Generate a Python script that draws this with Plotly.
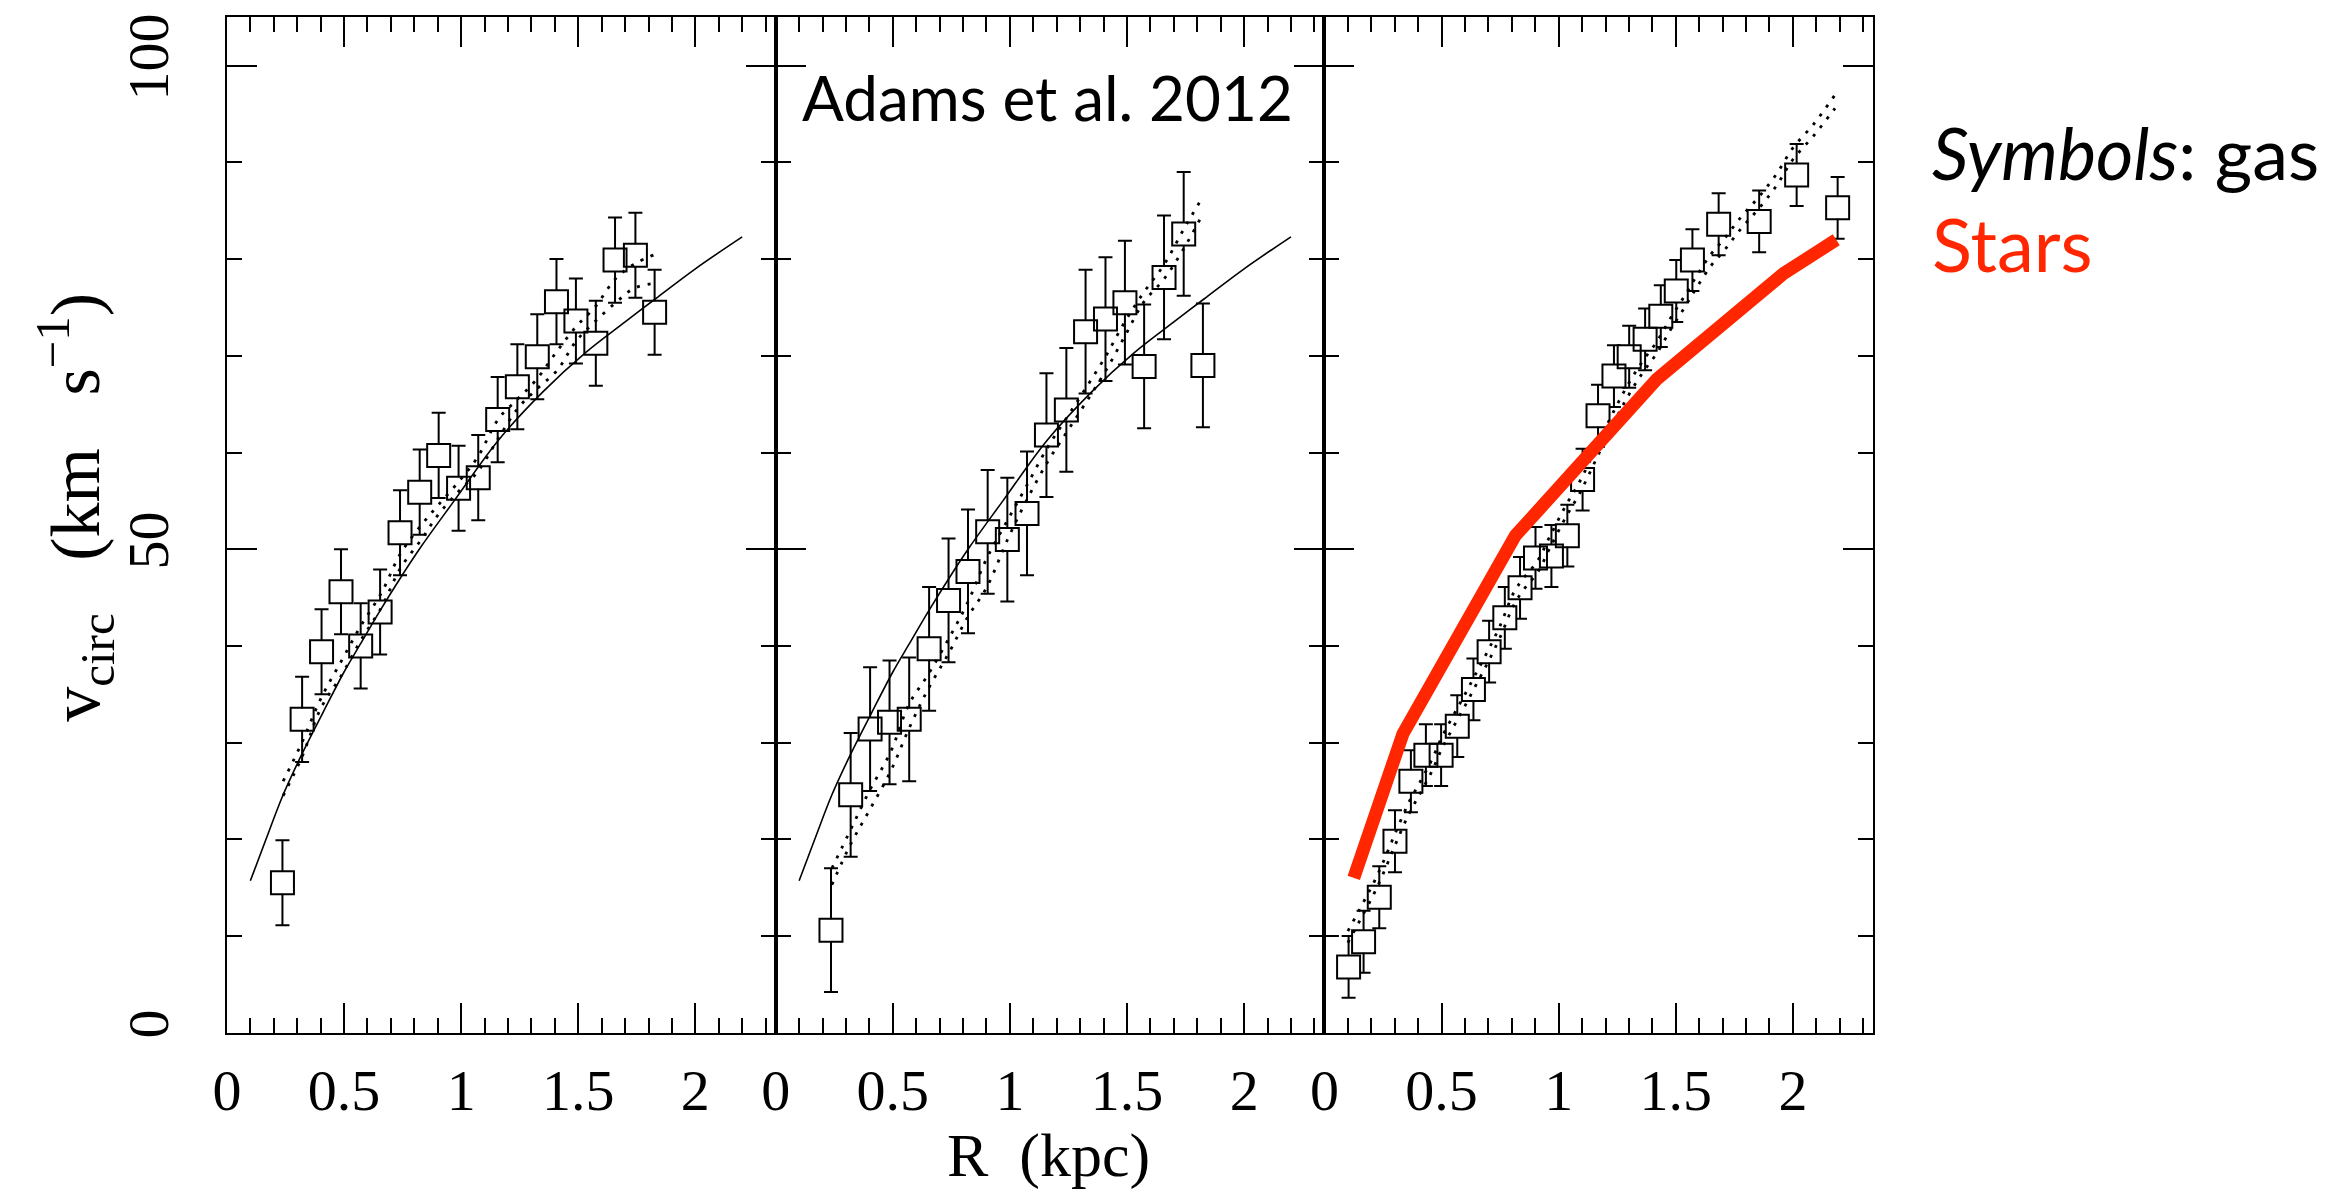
import plotly.graph_objects as go

# ---------------- data ----------------
# Panel 1 (gas, symbols)
R1 = [0.237, 0.321, 0.404, 0.487, 0.571, 0.654, 0.739, 0.823, 0.904, 0.989,
      1.073, 1.156, 1.240, 1.325, 1.407, 1.490, 1.575, 1.657, 1.744, 1.826]
V1 = [15.5, 32.4, 39.4, 45.6, 40.0, 43.5, 51.7, 55.9, 59.7, 56.3,
      57.4, 63.4, 66.8, 69.9, 75.6, 73.6, 71.3, 79.9, 80.4, 74.5]
E1 = [4.4] * len(R1)

# Panel 2 (gas, symbols)
R2 = [0.236, 0.320, 0.403, 0.486, 0.570, 0.655, 0.738, 0.821, 0.905, 0.989,
      1.073, 1.156, 1.241, 1.323, 1.408, 1.491, 1.573, 1.658, 1.742, 1.824]
V2 = [10.6, 24.6, 31.4, 32.1, 32.4, 39.7, 44.7, 47.7, 51.8, 51.0,
      53.7, 61.8, 64.4, 72.5, 73.8, 75.5, 68.9, 78.1, 82.6, 69.0]
E2 = [6.4] * len(R2)

# Panel 3 (gas, symbols)
R3 = [0.103, 0.167, 0.234, 0.301, 0.369, 0.433, 0.498, 0.567, 0.636, 0.703,
      0.770, 0.835, 0.901, 0.969, 1.037, 1.102, 1.168, 1.236, 1.301, 1.369,
      1.436, 1.502, 1.571, 1.683, 1.856, 2.016, 2.191]
V3 = [6.8, 9.4, 14.0, 19.8, 26.0, 28.7, 28.7, 31.7, 35.5, 39.4,
      42.9, 46.0, 49.1, 49.3, 51.4, 57.2, 63.8, 67.9, 69.9, 71.7,
      74.1, 76.7, 79.9, 83.6, 83.9, 88.7, 85.3]
E3 = [3.2] * len(R3)

# Solid model curve (panels 1 and 2)
R_FIT = [0.10, 0.17, 0.24, 0.32, 0.41, 0.50, 0.57, 0.65, 0.74, 0.83,
         0.97, 1.16, 1.35, 1.53, 1.70, 1.83, 2.00, 2.20]
V_FIT = [15.7, 20.2, 24.6, 28.8, 33.1, 37.3, 40.2, 43.5, 47.0, 50.3,
         55.0, 61.3, 66.3, 70.3, 73.5, 75.9, 79.0, 82.3]

# Dotted curves, panel 1
R_D1 = [0.24, 0.32, 0.40, 0.49, 0.57, 0.66, 0.74, 0.83, 0.90, 0.99,
        1.07, 1.16, 1.24, 1.32, 1.41, 1.49, 1.57, 1.66, 1.74, 1.83]
V_D1_UP = [26.0, 30.0, 34.5, 38.5, 42.0, 45.5, 49.5, 52.5, 54.5, 57.0,
           59.5, 63.5, 65.5, 67.5, 70.5, 73.0, 75.0, 78.0, 79.5, 80.5]
V_D1_LO = [24.5, 28.5, 33.5, 37.0, 40.5, 44.0, 48.0, 51.0, 53.5, 56.0,
           58.0, 61.5, 64.5, 66.5, 68.5, 71.5, 73.5, 75.5, 77.0, 77.5]

# Dotted curves, panel 2
R_D2 = [0.24, 0.32, 0.40, 0.49, 0.57, 0.65, 0.74, 0.82, 0.90, 0.99,
        1.07, 1.16, 1.24, 1.32, 1.41, 1.49, 1.57, 1.66, 1.74, 1.82]
V_D2_UP = [17.0, 21.0, 25.0, 29.0, 34.0, 37.0, 40.8, 44.5, 49.0, 53.0,
           56.5, 60.5, 63.5, 66.5, 70.0, 73.5, 76.5, 79.5, 83.0, 86.3]
V_D2_LO = [15.3, 19.5, 23.0, 27.0, 31.5, 35.5, 39.3, 43.0, 46.0, 51.0,
           55.0, 59.0, 62.0, 65.0, 68.5, 72.0, 75.5, 78.0, 81.0, 84.5]

# Dotted curves, panel 3
R_D3 = [0.10, 0.16, 0.21, 0.25, 0.30, 0.36, 0.41, 0.46, 0.50, 0.55,
        0.60, 0.65, 0.70, 0.75, 0.81, 0.85, 0.91, 0.96, 1.03, 1.09,
        1.16, 1.24, 1.30, 1.36, 1.42, 1.48, 1.54, 1.59, 1.65, 1.71,
        1.78, 1.85, 1.93, 2.00, 2.09, 2.18]
V_D3_UP = [10.5, 13.2, 15.5, 17.6, 20.5, 23.8, 26.0, 28.3, 30.5, 32.8,
           35.0, 37.3, 39.6, 42.1, 45.6, 47.0, 48.8, 51.2, 54.5, 57.0,
           60.5, 64.5, 67.2, 69.5, 71.5, 74.0, 76.3, 78.3, 80.5, 82.2,
           84.4, 86.3, 88.8, 91.5, 94.0, 97.0]
V_D3_LO = [9.3, 12.0, 14.3, 16.4, 19.3, 22.6, 24.8, 27.1, 29.3, 31.6,
           33.8, 36.1, 38.4, 40.9, 44.3, 45.8, 47.6, 50.0, 53.3, 55.8,
           59.3, 63.3, 66.0, 68.3, 70.3, 72.8, 75.1, 77.1, 79.3, 81.0,
           83.2, 85.1, 87.6, 90.3, 92.8, 95.6]

# Stars (red), panel 3
R_STARS = [0.125, 0.335, 0.815, 1.42, 1.96, 2.185]
V_STARS = [16.0, 30.9, 51.4, 67.6, 78.5, 82.0]

X_TICKS = [0, 0.5, 1, 1.5, 2]
Y_TICKS = [0, 50, 100]

# ---------------- figure ----------------
W, H = 2345, 1189
RED = "#ff2600"
SERIF = "Liberation Serif, DejaVu Serif, serif"
SANS = "Lato, Noto Sans, sans-serif"

fig = go.Figure()


def add_gas(R, V, E, ax):
    xa, ya = ("x", "y") if ax == 1 else (f"x{ax}", f"y{ax}")
    # error bars
    fig.add_trace(go.Scatter(
        x=R, y=V, mode="markers", xaxis=xa, yaxis=ya, showlegend=False,
        marker=dict(size=1, color="rgba(0,0,0,0)"),
        error_y=dict(type="data", array=E, visible=True, color="black",
                     thickness=2, width=7)))
    # white interior of the squares
    fig.add_trace(go.Scatter(
        x=R, y=V, mode="markers", xaxis=xa, yaxis=ya, showlegend=False,
        marker=dict(symbol="square", size=22, color="white",
                    line=dict(width=0))))
    # square outlines
    fig.add_trace(go.Scatter(
        x=R, y=V, mode="markers", xaxis=xa, yaxis=ya, showlegend=False,
        marker=dict(symbol="square-open", size=23, color="black",
                    line=dict(width=2, color="black"))))


def add_line(R, V, ax, **line):
    xa, ya = ("x", "y") if ax == 1 else (f"x{ax}", f"y{ax}")
    fig.add_trace(go.Scatter(x=R, y=V, mode="lines", xaxis=xa, yaxis=ya,
                             showlegend=False, line=line))


add_gas(R1, V1, E1, 1)
add_gas(R2, V2, E2, 2)
add_gas(R3, V3, E3, 3)

DOT = dict(color="black", width=2.8, dash="3px,8px", shape="spline")
add_line(R_D1, V_D1_UP, 1, **DOT)
add_line(R_D1, V_D1_LO, 1, **DOT)
add_line(R_D2, V_D2_UP, 2, **DOT)
add_line(R_D2, V_D2_LO, 2, **DOT)
add_line(R_D3, V_D3_UP, 3, **DOT)
add_line(R_D3, V_D3_LO, 3, **DOT)

add_line(R_FIT, V_FIT, 1, color="black", width=1.6, shape="spline")
add_line(R_FIT, V_FIT, 2, color="black", width=1.6, shape="spline")

add_line(R_STARS, V_STARS, 3, color=RED, width=13)

# geometry (pixels)
left, pw = 213.3, 552.3
top, bottom = 14.5, 1037.5
ydom = [1 - bottom / H, 1 - top / H]

common = dict(showline=True, linewidth=2, linecolor="black", mirror="allticks",
              ticks="inside", ticklen=30, tickwidth=2, tickcolor="black",
              showgrid=False, zeroline=False,
              tickfont=dict(family=SERIF, size=58, color="black"))

layout_axes = {}
for i in range(3):
    xn = "xaxis" if i == 0 else f"xaxis{i+1}"
    yn = "yaxis" if i == 0 else f"yaxis{i+1}"
    x0 = (left + i * pw) / W
    x1 = (left + (i + 1) * pw) / W
    layout_axes[xn] = dict(common, domain=[x0, x1], range=[0, 2.343],
                           tickmode="array", tickvals=X_TICKS,
                           ticklabelstandoff=6,
                           anchor="y" if i == 0 else f"y{i+1}",
                           minor=dict(ticks="inside", ticklen=15, tickwidth=2,
                                      tickcolor="black", dtick=0.1, tick0=0,
                                      showgrid=False))
    layout_axes[yn] = dict(common, domain=ydom, range=[0, 105],
                           tickmode="array", tickvals=Y_TICKS,
                           tickangle=-90, ticklabelstandoff=34,
                           showticklabels=(i == 0),
                           anchor="x" if i == 0 else f"x{i+1}",
                           minor=dict(ticks="inside", ticklen=15, tickwidth=2,
                                      tickcolor="black", dtick=10, tick0=0,
                                      showgrid=False))

fig.update_layout(**layout_axes)

annotations = [
    dict(text="Adams et al. 2012", x=1039 / W, y=1 - 95 / H, xref="paper",
         yref="paper", xanchor="center", yanchor="middle", showarrow=False,
         font=dict(family=SANS, size=62, color="black")),
    dict(text="<i>Symbols</i>: gas", x=1927 / W, y=1 - 150 / H, xref="paper",
         yref="paper", xanchor="left", yanchor="middle", showarrow=False,
         font=dict(family=SANS, size=72, color="black")),
    dict(text="Stars", x=1927 / W, y=1 - 242 / H, xref="paper",
         yref="paper", xanchor="left", yanchor="middle", showarrow=False,
         font=dict(family=SANS, size=74, color=RED)),
    dict(text="v<sub>circ</sub>\u00a0\u00a0\u00a0(km\u00a0\u00a0\u00a0s<sup>\u22121</sup>)",
         x=60 / W, y=1 - 508 / H, xref="paper", yref="paper",
         xanchor="center", yanchor="middle", textangle=-90, showarrow=False,
         font=dict(family=SERIF, size=70, color="black")),
    dict(text="R\u00a0\u00a0(kpc)", x=1040 / W, y=1 - 1161 / H, xref="paper",
         yref="paper", xanchor="center", yanchor="middle", showarrow=False,
         font=dict(family=SERIF, size=62, color="black")),
]

fig.update_layout(width=W, height=H, margin=dict(l=0, r=0, t=0, b=0),
                  paper_bgcolor="white", plot_bgcolor="white",
                  showlegend=False, annotations=annotations)

fig.write_html("out.html")
